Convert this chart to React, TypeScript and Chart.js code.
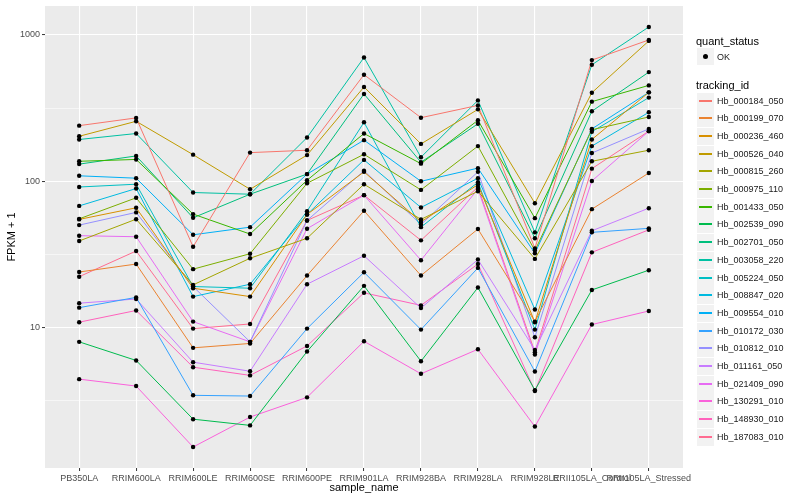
import React, { useEffect, useRef } from "react";
import { Chart, registerables } from "chart.js";

Chart.register(...registerables);

const FONT = '"Liberation Sans", Arial, Helvetica, sans-serif';

const categories = [
  "PB350LA",
  "RRIM600LA",
  "RRIM600LE",
  "RRIM600SE",
  "RRIM600PE",
  "RRIM901LA",
  "RRIM928BA",
  "RRIM928LA",
  "RRIM928LE",
  "RRII105LA_Control",
  "RRII105LA_Stressed",
];

const trackingIds = [
  "Hb_000184_050",
  "Hb_000199_070",
  "Hb_000236_460",
  "Hb_000526_040",
  "Hb_000815_260",
  "Hb_000975_110",
  "Hb_001433_050",
  "Hb_002539_090",
  "Hb_002701_050",
  "Hb_003058_220",
  "Hb_005224_050",
  "Hb_008847_020",
  "Hb_009554_010",
  "Hb_010172_030",
  "Hb_010812_010",
  "Hb_011161_050",
  "Hb_021409_090",
  "Hb_130291_010",
  "Hb_148930_010",
  "Hb_187083_010",
];

const seriesColors = [
  "#F8766D", "#EA8331", "#D89000", "#C09B00", "#A3A500",
  "#7CAE00", "#39B600", "#00BB4E", "#00BF7D", "#00C1A3",
  "#00BFC4", "#00BAE0", "#00B0F6", "#35A2FF", "#9590FF",
  "#C77CFF", "#E76BF3", "#FA62DB", "#FF62BC", "#FF6C91",
];

// FPKM + 1 per sample (order of categories)
const hb_000184_050 = [240, 271, 35.7, 157, 163, 535, 272, 330, 34.8, 673, 924];
const hb_000199_070 = [24.0, 27.2, 7.28, 7.8, 22.7, 62.9, 22.7, 47.2, 11.0, 64.5, 114];
const hb_000236_460 = [54.9, 65.9, 18.6, 16.3, 59.3, 116, 52.8, 94.9, 10.9, 193, 405];
const hb_000526_040 = [203, 257, 152, 88.2, 151, 441, 180, 310, 70.8, 403, 910];
const hb_000815_260 = [39.1, 55.1, 19.6, 29.8, 40.8, 95.5, 54.9, 85.5, 29.5, 137, 163];
const hb_000975_110 = [55.4, 77.1, 25.1, 32.0, 96.9, 153, 87.3, 174, 33.6, 225, 275];
const hb_001433_050 = [137, 141, 59.7, 43.6, 101.6, 212, 132, 261, 56, 350, 452];
const hb_002539_090 = [8.0, 5.97, 2.37, 2.15, 6.87, 19.3, 5.9, 18.8, 3.74, 18.1, 24.7];
const hb_002701_050 = [131, 149, 56.3, 81.6, 112, 395, 135, 247, 40.8, 301, 557];
const hb_003058_220 = [193, 212, 83.8, 81.6, 199, 701, 146, 357, 44.8, 625, 1133];
const hb_005224_050 = [91.4, 95.5, 19.1, 18.6, 62.5, 253, 48.6, 98.4, 9.7, 218, 373];
const hb_008847_020 = [67.9, 89.2, 16.3, 19.8, 59.3, 140, 66.2, 105, 13.3, 174, 296];
const hb_009554_010 = [109, 105, 43.1, 48.6, 112, 191, 100, 123, 32.2, 228, 405];
const hb_010172_030 = [13.7, 16.1, 3.45, 3.41, 9.85, 23.9, 9.7, 25.6, 5.02, 44.8, 47.7];
const hb_010812_010 = [50.2, 61.3, 19.1, 8.0, 54, 118, 50.7, 116, 8.6, 156, 228];
const hb_011161_050 = [14.7, 15.7, 5.81, 5.04, 19.8, 31.0, 13.6, 29.2, 7.05, 45.9, 65.5];
const hb_021409_090 = [42.5, 41.8, 11.0, 8.0, 47.4, 80.4, 28.9, 88.6, 6.55, 100.5, 220];
const hb_130291_010 = [4.45, 3.99, 1.53, 2.45, 3.34, 8.07, 4.84, 7.12, 2.11, 10.5, 13.0];
const hb_148930_010 = [10.9, 13.1, 5.37, 4.72, 7.5, 17.3, 14.2, 27.2, 3.69, 32.7, 46.6];
const hb_187083_010 = [22.3, 33.4, 9.85, 10.6, 54, 80.4, 39.5, 91.4, 6.8, 122, 220];

const seriesValues = [
  hb_000184_050, hb_000199_070, hb_000236_460, hb_000526_040, hb_000815_260,
  hb_000975_110, hb_001433_050, hb_002539_090, hb_002701_050, hb_003058_220,
  hb_005224_050, hb_008847_020, hb_009554_010, hb_010172_030, hb_010812_010,
  hb_011161_050, hb_021409_090, hb_130291_010, hb_148930_010, hb_187083_010,
];

const yMajorTicks = [10, 100, 1000];
const yMinorTicks = [3.1623, 31.623, 316.23];
const yMin = 1.0996;
const yMax = 1576;

const isMajor = (v: number) => yMajorTicks.some((m) => Math.abs(m - v) < 1e-6);

const panelPlugin = {
  id: "ggpanel",
  beforeDraw(chart: any) {
    const { ctx, chartArea: a } = chart;
    ctx.save();
    ctx.fillStyle = "#EBEBEB";
    ctx.fillRect(a.left, a.top, a.right - a.left, a.bottom - a.top);
    ctx.restore();
  },
  afterDraw(chart: any) {
    const { ctx, chartArea: a } = chart;
    ctx.save();
    ctx.fillStyle = "#000000";
    ctx.font = `11px ${FONT}`;
    ctx.textAlign = "center";
    ctx.textBaseline = "middle";
    ctx.fillText("sample_name", (a.left + a.right) / 2, 488);
    ctx.translate(12, (a.top + a.bottom) / 2);
    ctx.rotate(-Math.PI / 2);
    ctx.fillText("FPKM + 1", 0, 0);
    ctx.restore();
  },
};

export default function App() {
  const ref = useRef<HTMLCanvasElement | null>(null);

  useEffect(() => {
    if (!ref.current) return;
    const lineSets = seriesValues.map((vals, s) => ({
      type: "line" as const,
      label: trackingIds[s],
      data: vals.map((v, i) => ({ x: i, y: v })),
      borderColor: seriesColors[s],
      backgroundColor: seriesColors[s],
      borderWidth: 1,
      pointRadius: 0,
      fill: false,
      tension: 0,
      order: 1,
    }));
    const pointSet = {
      type: "scatter" as const,
      label: "OK",
      data: seriesValues.flatMap((vals) => vals.map((v, i) => ({ x: i, y: v }))),
      backgroundColor: "#000000",
      borderColor: "#000000",
      borderWidth: 0,
      pointRadius: 2.2,
      showLine: false,
      order: 0,
    };
    const chart = new Chart(ref.current, {
      type: "line",
      data: { datasets: [...lineSets, pointSet] as any },
      plugins: [panelPlugin],
      options: {
        animation: false,
        responsive: false,
        devicePixelRatio: 1,
        layout: { padding: { left: 0, right: 117, top: 6, bottom: 0 } },
        plugins: { legend: { display: false }, tooltip: { enabled: false } },
        scales: {
          x: {
            type: "linear",
            min: -0.6,
            max: 10.6,
            afterBuildTicks: (s: any) => {
              s.ticks = categories.map((_, i) => ({ value: i }));
            },
            afterFit: (s: any) => {
              s.height = 32;
              s.paddingLeft = 0;
              s.paddingRight = 0;
            },
            ticks: {
              autoSkip: false,
              maxRotation: 0,
              minRotation: 0,
              padding: 2,
              color: "#4D4D4D",
              font: { size: 9, family: FONT },
              callback: (v: any) => categories[Number(v)] ?? "",
            },
            grid: {
              color: "#FFFFFF",
              lineWidth: 1.1,
              drawTicks: true,
              tickLength: 3,
              tickColor: "#333333",
              tickWidth: 1,
            },
            border: { display: false },
          },
          y: {
            type: "logarithmic",
            min: yMin,
            max: yMax,
            afterBuildTicks: (s: any) => {
              s.ticks = [...yMinorTicks, ...yMajorTicks]
                .sort((a, b) => a - b)
                .map((v) => ({ value: v, major: isMajor(v) }));
            },
            afterFit: (s: any) => {
              s.width = 45;
              s.paddingTop = 0;
              s.paddingBottom = 0;
            },
            ticks: {
              padding: 2,
              color: "#4D4D4D",
              font: { size: 9, family: FONT },
              callback: (v: any) => (isMajor(Number(v)) ? String(Number(v)) : ""),
            },
            grid: {
              color: "#FFFFFF",
              lineWidth: (c: any) => (isMajor(c.tick?.value) ? 1.1 : 0.55),
              drawTicks: true,
              tickLength: 3,
              tickColor: (c: any) => (isMajor(c.tick?.value) ? "#333333" : "rgba(0,0,0,0)"),
              tickWidth: 1,
            },
            border: { display: false },
          },
        },
      } as any,
    });
    return () => chart.destroy();
  }, []);

  const keyTop0 = 100.7;
  const keyStep = 17.68;

  return (
    <div
      style={{
        position: "fixed",
        left: 0,
        top: 0,
        width: 800,
        height: 500,
        background: "#FFFFFF",
        fontFamily: FONT,
      }}
    >
      <canvas ref={ref} width={800} height={500} style={{ width: 800, height: 500, display: "block" }} />
      <div style={{ position: "absolute", left: 696, top: 35, height: 12, lineHeight: "12px", fontSize: 11, color: "#000" }}>
        quant_status
      </div>
      <div style={{ position: "absolute", left: 697, top: 48, width: 17, height: 17, background: "#F2F2F2" }}>
        <div style={{ position: "absolute", left: 6, top: 6, width: 5, height: 5, borderRadius: 3, background: "#000" }} />
      </div>
      <div style={{ position: "absolute", left: 717, top: 51, height: 12, lineHeight: "12px", fontSize: 9, color: "#1A1A1A" }}>
        OK
      </div>
      <div style={{ position: "absolute", left: 696, top: 79, height: 12, lineHeight: "12px", fontSize: 11, color: "#000" }}>
        tracking_id
      </div>
      {trackingIds.map((id, i) => {
        const c = Math.round(keyTop0 + i * keyStep);
        return (
          <React.Fragment key={id}>
            <div style={{ position: "absolute", left: 697, top: c - 8, width: 17, height: 17, background: "#F2F2F2" }}>
              <div style={{ position: "absolute", left: 2, top: 7, width: 13, height: 2, background: seriesColors[i] }} />
            </div>
            <div style={{ position: "absolute", left: 717, top: c - 6, height: 12, lineHeight: "12px", fontSize: 9, color: "#1A1A1A" }}>
              {id}
            </div>
          </React.Fragment>
        );
      })}
    </div>
  );
}
